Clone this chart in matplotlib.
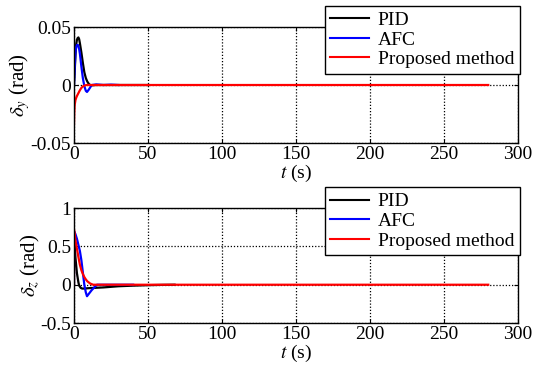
import matplotlib.pyplot as plt

plt.rcParams['font.family'] = ['Liberation Serif', 'DejaVu Serif']
plt.rcParams['mathtext.fontset'] = 'stix'

# top panel: delta_y
t_pid_y = [0, 0.5, 1, 1.5, 2, 2.5, 3, 3.5, 4, 5, 6, 7, 8, 9, 10, 11, 12, 15, 20, 30, 50]
pid_y = [0, 0.012, 0.026, 0.035, 0.039, 0.0405, 0.041, 0.0395, 0.036, 0.028, 0.019, 0.011, 0.006,
         0.003, 0.001, 0.0, -0.0003, 0.0, 0.0, 0.0, 0.0]
t_afc_y = [0, 0.5, 1, 1.5, 2, 2.7, 3.5, 4, 5, 6, 7, 8, 8.8, 10, 11, 12, 15, 20, 25, 30]
afc_y = [0, 0.015, 0.028, 0.033, 0.0345, 0.0345, 0.031, 0.027, 0.016, 0.006, -0.001, -0.005,
         -0.006, -0.004, -0.002, 0.0, 0.0005, 0.0, 0.0003, 0.0]
t_prop_y = [0, 0.2, 0.5, 1, 1.5, 2, 3, 4, 5, 6, 7, 8.5, 10, 20, 50, 100, 150, 200, 250, 280]
prop_y = [-0.034, -0.024, -0.017, -0.013, -0.011, -0.0095, -0.007, -0.0045, -0.0025, -0.0012,
          -0.0005, 0.0, 0.0, 0.0, 0.0, 0.0, 0.0, 0.0, 0.0, 0.0]

# bottom panel: delta_z
t_pid_z = [0, 0.01, 0.5, 1, 2, 3, 3.5, 4.5, 5.5, 7, 10, 15, 20, 30, 40, 50, 60, 68]
pid_z = [0, 0.65, 0.5, 0.35, 0.15, 0.03, -0.01, -0.04, -0.05, -0.05, -0.045, -0.04, -0.035,
         -0.02, -0.012, -0.006, -0.002, 0.0]
t_afc_z = [0, 0.01, 1, 2, 3, 4, 5, 6, 7, 8, 8.8, 10, 12, 14, 15.5, 20, 30, 40]
afc_z = [0, 0.7, 0.66, 0.6, 0.52, 0.44, 0.32, 0.16, 0.0, -0.1, -0.15, -0.12, -0.07, -0.03,
         0.0, 0.0, 0.0, 0.0]
t_prop_z = [0, 0.01, 0.5, 1, 2, 3, 4, 5, 6, 7, 8, 9, 11, 13, 20, 50, 100, 150, 200, 250, 280]
prop_z = [0, 0.72, 0.66, 0.58, 0.47, 0.36, 0.26, 0.19, 0.14, 0.1, 0.07, 0.045, 0.015, 0.0,
          0.0, 0.0, 0.0, 0.0, 0.0, 0.0, 0.0]

x_ticks = [0, 50, 100, 150, 200, 250, 300]
y_ticks_top = [-0.05, 0, 0.05]
y_ticks_bot = [-0.5, 0, 0.5, 1]

fig = plt.figure(figsize=(5.5, 3.73), dpi=100)
ax1 = fig.add_axes([0.1345, 0.6166, 0.807, 0.311])
ax2 = fig.add_axes([0.1345, 0.134, 0.807, 0.308])

panels = [
    (ax1, t_pid_y, pid_y, t_afc_y, afc_y, t_prop_y, prop_y, y_ticks_top,
     ['-0.05', '0', '0.05'], r'$\delta_y$ (rad)'),
    (ax2, t_pid_z, pid_z, t_afc_z, afc_z, t_prop_z, prop_z, y_ticks_bot,
     ['-0.5', '0', '0.5', '1'], r'$\delta_z$ (rad)'),
]

for ax, tp, yp, ta, ya, tr, yr, yt, ytl, ylab in panels:
    ax.plot(tp, yp, color='black', lw=1.6, label='PID')
    ax.plot(ta, ya, color='blue', lw=1.6, label='AFC')
    ax.plot(tr, yr, color='red', lw=1.6, label='Proposed method')
    ax.set_xlim(0, 300)
    ax.set_ylim(yt[0], yt[-1])
    ax.set_xticks(x_ticks)
    ax.set_yticks(yt)
    ax.set_yticklabels(ytl)
    ax.grid(True, color='black', linestyle=(0, (1, 1.5)), linewidth=0.9)
    ax.tick_params(direction='in', labelsize=14, length=3, pad=2, top=True, right=True)
    ax.set_ylabel(ylab, fontsize=15, labelpad=-1)
    ax.set_xlabel(r'$t$ (s)', fontsize=14, labelpad=0)
    for s in ax.spines.values():
        s.set_linewidth(1.0)
    leg = ax.legend(loc='upper right', bbox_to_anchor=(1.0045, 1.181), fontsize=14,
                    fancybox=False, framealpha=1, edgecolor='black', borderpad=0.28,
                    labelspacing=0.1, handlelength=2.0, handletextpad=0.45, borderaxespad=0)
    leg.get_frame().set_linewidth(1.0)
    for h in leg.get_lines():
        h.set_linewidth(1.5)

fig.savefig('out.png', dpi=100)
